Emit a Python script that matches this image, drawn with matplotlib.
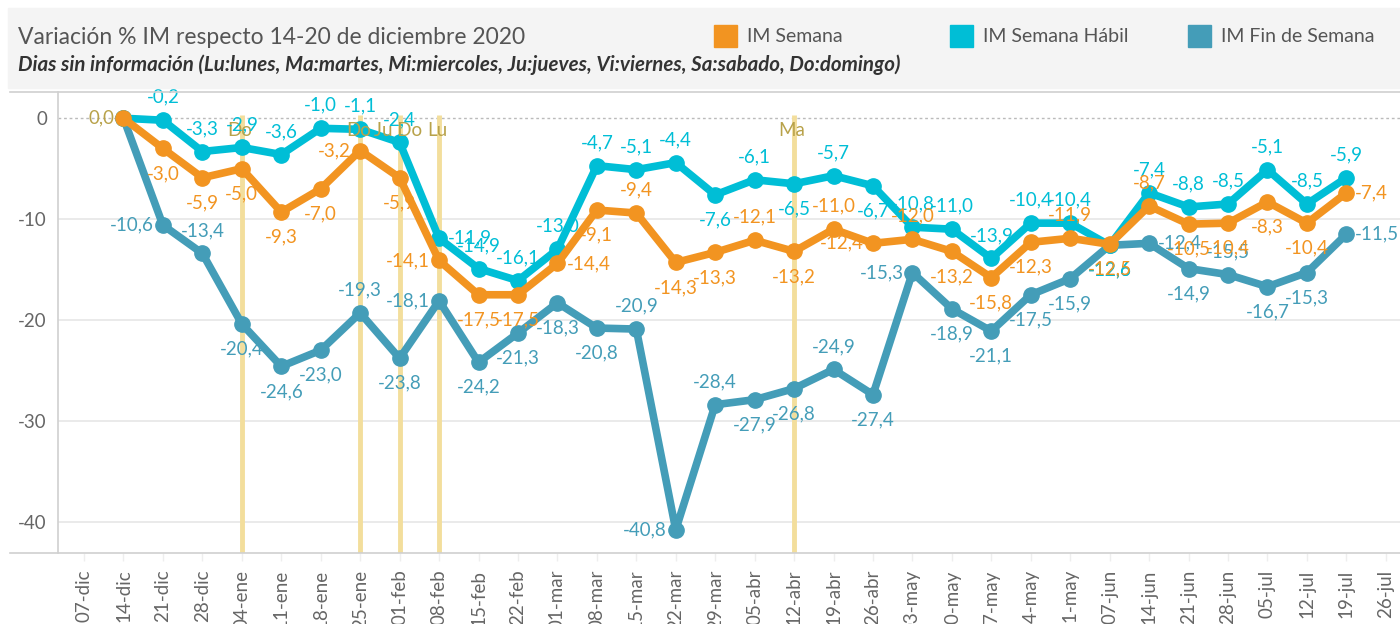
import matplotlib
matplotlib.use("Agg")
import matplotlib.pyplot as plt
from matplotlib.patches import Rectangle
from matplotlib.lines import Line2D

plt.rcParams["font.family"] = ["Lato", "DejaVu Sans"]

# week labels on the x axis
weeks = ["07-dic", "14-dic", "21-dic", "28-dic", "04-ene", "11-ene", "18-ene", "25-ene",
         "01-feb", "08-feb", "15-feb", "22-feb", "01-mar", "08-mar", "15-mar", "22-mar",
         "29-mar", "05-abr", "12-abr", "19-abr", "26-abr", "03-may", "10-may", "17-may",
         "24-may", "31-may", "07-jun", "14-jun", "21-jun", "28-jun", "05-jul", "12-jul",
         "19-jul", "26-jul"]

# series start on 14-dic and end on 19-jul
first_week = 1
im_semana = [0.0, -3.0, -5.9, -5.0, -9.3, -7.0, -3.2, -5.9, -14.1, -17.5, -17.5, -14.4,
             -9.1, -9.4, -14.3, -13.3, -12.1, -13.2, -11.0, -12.4, -12.0, -13.2, -15.8,
             -12.3, -11.9, -12.5, -8.7, -10.5, -10.4, -8.3, -10.4, -7.4]
im_habil = [0.0, -0.2, -3.3, -2.9, -3.6, -1.0, -1.1, -2.4, -11.9, -14.9, -16.1, -13.0,
            -4.7, -5.1, -4.4, -7.6, -6.1, -6.5, -5.7, -6.7, -10.8, -11.0, -13.9, -10.4,
            -10.4, -12.6, -7.4, -8.8, -8.5, -5.1, -8.5, -5.9]
im_finde = [0.0, -10.6, -13.4, -20.4, -24.6, -23.0, -19.3, -23.8, -18.1, -24.2, -21.3,
            -18.3, -20.8, -20.9, -40.8, -28.4, -27.9, -26.8, -24.9, -27.4, -15.3, -18.9,
            -21.1, -17.5, -15.9, -12.6, -12.4, -14.9, -15.5, -16.7, -15.3, -11.5]

# weeks with missing days
missing_weeks = ["04-ene", "25-ene", "01-feb", "08-feb", "12-abr"]
missing_days = ["Do", "Do", "Ju Do", "Lu", "Ma"]

# label placement: a above, b below, l left, r right, n none
pos_semana = list("nbbbbblblbbrbabbabalabbbababbbbr")
pos_habil = list("naaaaaaaraaaaaabababaaaaabaaaaaa")
pos_finde = list("nlabbbablbbbbalabbablbbbbbrbabbr")

c_orange = "#F29421"
c_cyan = "#00BED6"
c_teal = "#449DB8"
c_gold = "#B8A24A"
c_grid = "#E6E6E6"
c_axis = "#D0D0D0"
c_tick = "#666666"

fig = plt.figure(figsize=(14, 6.24), dpi=100)
W, H = 1400, 624

# header
fig.patches.append(Rectangle((8 / W, 1 - 88 / H), 1 - 8 / W, 80 / H,
                             transform=fig.transFigure, color="#F4F4F4", zorder=0))
fig.text(18 / W, 1 - 38 / H, "Variación % IM respecto 14-20 de diciembre 2020",
         fontsize=16.5, color="#555555", va="center", ha="left")
fig.text(18 / W, 1 - 65 / H,
         "Dias sin información (Lu:lunes, Ma:martes, Mi:miercoles, Ju:jueves, "
         "Vi:viernes, Sa:sabado, Do:domingo)",
         fontsize=14.8, color="#333333", style="italic", weight="bold",
         va="center", ha="left")

legend_items = [("IM Semana", c_orange, 714), ("IM Semana Hábil", c_cyan, 950),
                ("IM Fin de Semana", c_teal, 1188)]
for name, col, x0 in legend_items:
    fig.patches.append(Rectangle((x0 / W, 1 - 47 / H), 23 / W, 22 / H,
                                 transform=fig.transFigure, color=col, zorder=1))
    fig.text((x0 + 33) / W, 1 - 36 / H, name, fontsize=14, color="#555555",
             va="center", ha="left")

# frame lines around the pane
for yy in (92, 553):
    fig.add_artist(Line2D([10 / W, 1], [1 - yy / H, 1 - yy / H], color=c_axis,
                          lw=1.2, transform=fig.transFigure))

ax = fig.add_axes([58 / W, 1 - 553 / H, 1 - 58 / W, (553 - 92) / H])
ax.set_xlim(-0.66, 33.36)
ax.set_ylim(-43.1, 2.6)

for s in ("top", "right", "bottom"):
    ax.spines[s].set_visible(False)
ax.spines["left"].set_color(c_axis)
ax.spines["left"].set_linewidth(1.2)

ax.set_yticks([0, -10, -20, -30, -40])
ax.set_yticklabels(["0", "-10", "-20", "-30", "-40"])
ax.tick_params(axis="y", length=0, pad=8, labelsize=13.5, labelcolor=c_tick)
for v in (-10, -20, -30, -40):
    ax.axhline(v, color=c_grid, lw=1.2, zorder=0)
ax.axhline(0, color="#BBBBBB", lw=1, ls=(0, (2, 2)), zorder=0)

ax.set_xticks(range(len(weeks)))
ax.set_xticklabels(weeks, rotation=90, ha="center", va="top")
ax.tick_params(axis="x", length=6, width=1, color="#EEEEEE", pad=6,
               labelsize=13.5, labelcolor=c_tick)

# missing-day markers
for wk, txt in zip(missing_weeks, missing_days):
    xi = weeks.index(wk)
    ax.plot([xi, xi], [0.3, -43.1], color="#F3DE9C", lw=3.5, zorder=1,
            solid_capstyle="butt")
    ax.text(xi - 0.05, -1.2, txt, color=c_gold, fontsize=13.5, ha="center",
            va="center", zorder=6)

xs = list(range(first_week, first_week + len(im_semana)))
offsets = {"a": (0, 23, "center"), "b": (0, -25, "center"),
           "l": (-9, 0, "right"), "r": (9, 0, "left")}

series = [(im_finde, c_teal, pos_finde), (im_habil, c_cyan, pos_habil),
          (im_semana, c_orange, pos_semana)]
for z, (vals, col, pos) in enumerate(series):
    ax.plot(xs, vals, color=col, lw=5.5, marker="o", markersize=11,
            solid_joinstyle="round", zorder=3 + z)
    for x, v, p in zip(xs, vals, pos):
        if p == "n":
            continue
        dx, dy, ha = offsets[p]
        ax.annotate(f"{v:.1f}".replace(".", ","), (x, v), xytext=(dx, dy),
                    textcoords="offset pixels", ha=ha, va="center",
                    color=col, fontsize=13.5, zorder=7)

# overlapping start labels
ax.annotate("0,0", (xs[0], im_semana[0]), xytext=(-9, 0), textcoords="offset pixels",
            ha="right", va="center", color=c_gold, fontsize=13.5, zorder=7)

fig.savefig("out.png", dpi=100)
